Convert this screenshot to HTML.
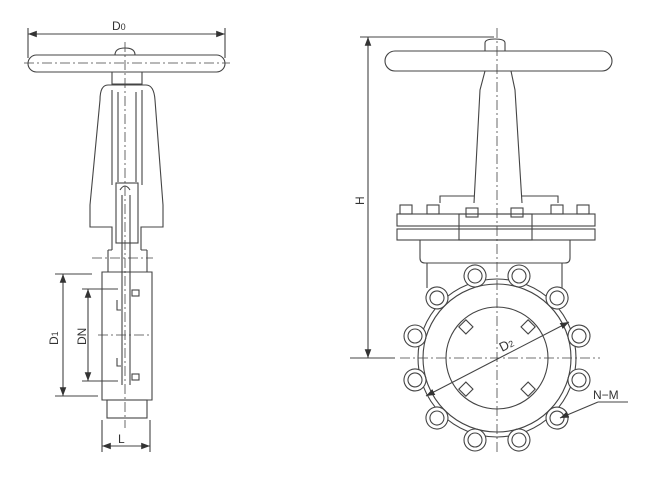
<!DOCTYPE html>
<html><head><style>body{margin:0;background:#fff}svg{display:block}text{font-family:"Liberation Sans",sans-serif;fill:#333}</style></head>
<body>
<svg width="650" height="482" viewBox="0 0 650 482" xmlns="http://www.w3.org/2000/svg">
<defs><marker id="a" markerWidth="8" markerHeight="6" refX="8" refY="3" orient="auto-start-reverse"><path d="M0,0 L8,3 L0,6z" fill="#333"/></marker></defs>
<g fill="none" stroke="#444" stroke-width="1.1">
<!-- LEFT VIEW -->
<line x1="28" y1="34" x2="225" y2="34" marker-start="url(#a)" marker-end="url(#a)"/>
<line x1="28" y1="28" x2="28" y2="58"/><line x1="225" y1="28" x2="225" y2="58"/>
<rect x="28" y="55" width="197" height="17" rx="8.5"/>
<path d="M115,55 q0,-7 10,-7 q10,0 10,7"/>
<path d="M112,72 v12 h30 v-12"/>
<path d="M108,85 Q100,85 100,100 L90,205 M146,85 Q154,85 155,100 L163,205"/>
<path d="M112,90 v95 M142,90 v95 M118,92 v90 M136,92 v90 M108,85 h38"/>
<path d="M90,205 v22 h22 v23 M163,205 v22 h-22 v23"/>
<rect x="116" y="183" width="22" height="60"/>
<path d="M120,190 q5,-8 10,0"/>
<path d="M108,250 h4 M141,250 h6 M108,250 v22 M147,250 v22 M102,272 h50 v128 h-50z"/>
<rect x="107" y="400" width="40" height="18"/>
<path d="M122,195 v190 M130,195 v190"/>
<rect x="132" y="290" width="7" height="6"/><rect x="132" y="374" width="7" height="6"/>
<path d="M117,300 v10 h4 M117,358 v8 h4"/>
<line x1="102" y1="420" x2="102" y2="452"/><line x1="150" y1="420" x2="150" y2="452"/>
<line x1="102" y1="446" x2="150" y2="446" marker-start="url(#a)" marker-end="url(#a)"/>
<line x1="55" y1="274" x2="92" y2="274"/><line x1="55" y1="396" x2="98" y2="396"/>
<line x1="63" y1="274" x2="63" y2="396" marker-start="url(#a)" marker-end="url(#a)"/>
<line x1="82" y1="289" x2="118" y2="289"/><line x1="82" y1="381" x2="118" y2="381"/>
<line x1="88" y1="289" x2="88" y2="381" marker-start="url(#a)" marker-end="url(#a)"/>
<g stroke-dasharray="10,3,2,3" stroke-width="0.8"><line x1="125" y1="42" x2="125" y2="428"/><line x1="24" y1="63" x2="230" y2="63"/><line x1="92" y1="258" x2="153" y2="258"/><line x1="98" y1="335" x2="152" y2="335"/></g>
<!-- RIGHT VIEW -->
<line x1="360" y1="37" x2="494" y2="37"/><line x1="350" y1="358" x2="395" y2="358"/>
<line x1="368" y1="37" x2="368" y2="358" marker-start="url(#a)" marker-end="url(#a)"/>
<rect x="385" y="51" width="227" height="20" rx="10"/>
<path d="M485,51 v-8 q0,-4 10,-4 q10,0 10,4 v8"/>
<path d="M485,71 L480,90 L474,203 M511,71 L515,90 L522,203"/>
<path d="M440,203 v-7 h34 M522,196 h36 v7"/>
<rect x="397" y="214" width="198" height="12"/><rect x="397" y="229" width="198" height="11"/>
<rect x="459" y="214" width="73" height="26"/>
<g><rect x="400" y="205" width="12" height="9"/><rect x="427" y="205" width="12" height="9"/><rect x="466" y="208" width="12" height="9"/><rect x="511" y="208" width="12" height="9"/><rect x="551" y="205" width="12" height="9"/><rect x="577" y="205" width="12" height="9"/></g>
<path d="M420,240 v18 q0,5 5,5 h140 q5,0 5,-5 v-18 M427,263 v25 M562,263 v25"/>
<g transform="translate(497,358)">
<circle r="79"/>
<g id="l"><circle cx="22" cy="-82" r="11" fill="#fff"/><circle cx="22" cy="-82" r="7"/></g>
<use href="#l" transform="rotate(30)"/><use href="#l" transform="rotate(60)"/><use href="#l" transform="rotate(90)"/><use href="#l" transform="rotate(120)"/><use href="#l" transform="rotate(150)"/><use href="#l" transform="rotate(180)"/><use href="#l" transform="rotate(210)"/><use href="#l" transform="rotate(240)"/><use href="#l" transform="rotate(270)"/><use href="#l" transform="rotate(300)"/><use href="#l" transform="rotate(330)"/>
<circle r="74"/><circle r="51"/>
<g id="s"><rect x="-5" y="-5" width="10" height="10" transform="rotate(45) translate(0,-44)"/></g>
<use href="#s" transform="rotate(90)"/><use href="#s" transform="rotate(180)"/><use href="#s" transform="rotate(270)"/>
</g>
<line x1="426" y1="396" x2="569" y2="322" marker-start="url(#a)" marker-end="url(#a)"/>
<path d="M628,402 h-30"/><line x1="598" y1="402" x2="560" y2="418" marker-end="url(#a)"/>
<g stroke-dasharray="10,3,2,3" stroke-width="0.8"><line x1="497" y1="28" x2="497" y2="455"/><line x1="400" y1="358" x2="600" y2="358"/></g>
</g>
<text x="112" y="30" font-size="12">D<tspan font-size="9">0</tspan></text>
<text x="118" y="443" font-size="12">L</text>
<text transform="translate(58,345) rotate(-90)" font-size="12">D<tspan font-size="9">1</tspan></text>
<text transform="translate(86,345) rotate(-90)" font-size="12">DN</text>
<text transform="translate(364,205) rotate(-90)" font-size="12">H</text>
<text transform="translate(502,352) rotate(-27)" font-size="13">D<tspan font-size="9">2</tspan></text>
<text x="593" y="399" font-size="12">N−M</text>
</svg>
</body></html>
